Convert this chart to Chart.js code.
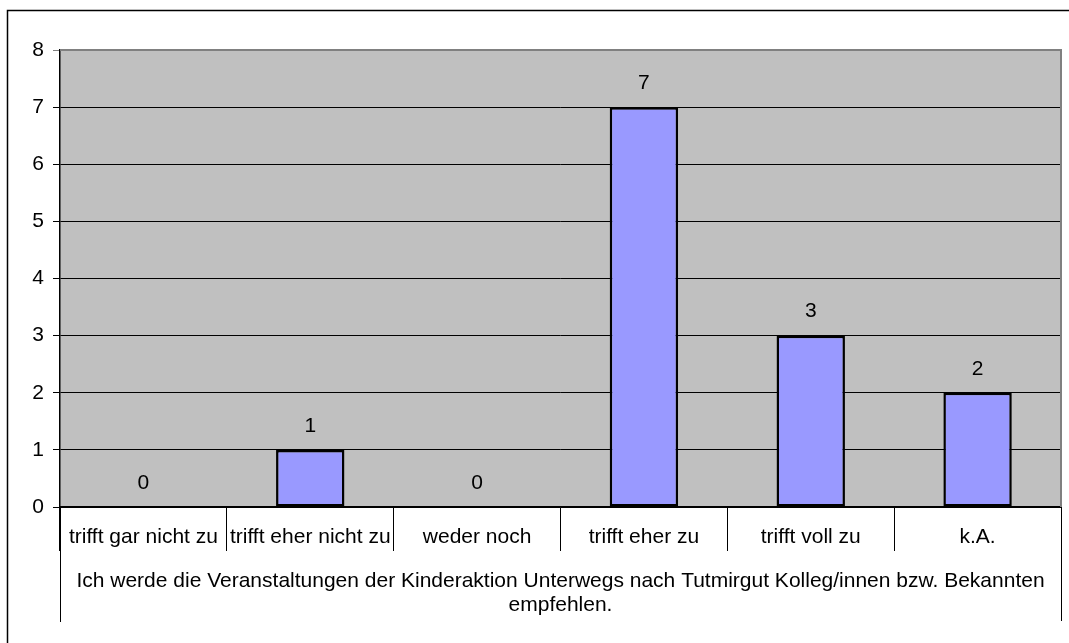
<!DOCTYPE html>
<html>
<head>
<meta charset="utf-8">
<script src="https://cdn.jsdelivr.net/npm/chart.js@4/dist/chart.umd.min.js"></script>
<style>
  html, body { margin: 0; padding: 0; background: #fff; }
  canvas { display: block; }
</style>
</head>
<body>
<canvas id="chart" width="1069" height="643"></canvas>
<script>
const categories = ['trifft gar nicht zu', 'trifft eher nicht zu', 'weder noch', 'trifft eher zu', 'trifft voll zu', 'k.A.'];
const counts = [0, 1, 0, 7, 3, 2];
const groupLabel = ['Ich werde die Veranstaltungen der Kinderaktion Unterwegs nach Tutmirgut Kolleg/innen bzw. Bekannten', 'empfehlen.'];
const yTicks = [0, 1, 2, 3, 4, 5, 6, 7, 8];

const FONT = '"Liberation Sans", Arial, sans-serif';
const FONT_SIZE = 21;

// gray plot background, frame lines and the outer box
const decorPlugin = {
    id: 'decor',
    beforeDraw(chart) {
        const { ctx, chartArea: a } = chart;
        ctx.save();
        ctx.fillStyle = '#fff';
        ctx.fillRect(0, 0, chart.width, chart.height);
        ctx.strokeStyle = '#000';
        ctx.lineWidth = 1.5;
        ctx.beginPath();
        ctx.moveTo(7.5, chart.height + 2);
        ctx.lineTo(7.5, 10.5);
        ctx.lineTo(chart.width + 2, 10.5);
        ctx.stroke();
        ctx.fillStyle = '#C0C0C0';
        ctx.fillRect(a.left, a.top, a.right - a.left, a.bottom - a.top);
        ctx.restore();
    },
    afterDraw(chart) {
        const { ctx, chartArea: a } = chart;
        ctx.save();
        // top and right frame of the plot
        ctx.strokeStyle = '#808080';
        ctx.lineWidth = 2;
        ctx.beginPath();
        ctx.moveTo(a.left, a.top);
        ctx.lineTo(a.right, a.top);
        ctx.lineTo(a.right, a.bottom);
        ctx.stroke();
        // outer edges of the category table
        ctx.strokeStyle = '#000';
        ctx.lineWidth = 1;
        ctx.beginPath();
        ctx.moveTo(a.left + 0.5, a.bottom);
        ctx.lineTo(a.left + 0.5, 622);
        ctx.moveTo(a.right + 0.5, a.bottom);
        ctx.lineTo(a.right + 0.5, 621);
        ctx.stroke();
        // group label under the categories
        ctx.fillStyle = '#000';
        ctx.font = FONT_SIZE + 'px ' + FONT;
        ctx.textAlign = 'center';
        ctx.textBaseline = 'middle';
        const cx = (a.left + a.right) / 2;
        groupLabel.forEach((line, i) => ctx.fillText(line, cx, 581 + i * 24));
        ctx.restore();
    }
};

// value above each bar
const valueLabels = {
    id: 'valueLabels',
    afterDatasetsDraw(chart) {
        const { ctx } = chart;
        const meta = chart.getDatasetMeta(0);
        ctx.save();
        ctx.fillStyle = '#000';
        ctx.font = FONT_SIZE + 'px ' + FONT;
        ctx.textAlign = 'center';
        ctx.textBaseline = 'middle';
        meta.data.forEach((bar, i) => {
            ctx.fillText(String(counts[i]), bar.x, bar.y - 24);
        });
        ctx.restore();
    }
};

new Chart(document.getElementById('chart'), {
    type: 'bar',
    data: {
        labels: categories,
        datasets: [{
            data: counts,
            backgroundColor: '#9999FF',
            borderColor: '#000',
            borderWidth: 2.5,
            borderSkipped: false,
            categoryPercentage: 1,
            barPercentage: 0.41
        }]
    },
    options: {
        responsive: false,
        animation: false,
        layout: { padding: { left: 0, right: 8, top: 50, bottom: 0 } },
        plugins: { legend: { display: false }, tooltip: { enabled: false } },
        scales: {
            x: {
                offset: true,
                grid: {
                    offset: true,
                    drawOnChartArea: false,
                    tickLength: 44,
                    color: '#000',
                    lineWidth: 1
                },
                border: { color: '#000', width: 1.5 },
                ticks: {
                    color: '#000',
                    font: { family: FONT, size: FONT_SIZE },
                    padding: -26,
                    maxRotation: 0,
                    autoSkip: false
                },
                afterFit(scale) { scale.height = 136; }
            },
            y: {
                min: 0,
                max: 8,
                afterBuildTicks(scale) { scale.ticks = yTicks.map(v => ({ value: v })); },
                grid: {
                    color: ctx => ctx.tick && ctx.tick.value === 8 ? '#808080' : '#000',
                    lineWidth: 1,
                    tickLength: 7
                },
                border: { color: '#000', width: 1.5 },
                ticks: {
                    color: '#000',
                    font: { family: FONT, size: FONT_SIZE },
                    padding: 9
                },
                afterFit(scale) { scale.width = 60; }
            }
        }
    },
    plugins: [decorPlugin, valueLabels]
});
</script>
</body>
</html>
